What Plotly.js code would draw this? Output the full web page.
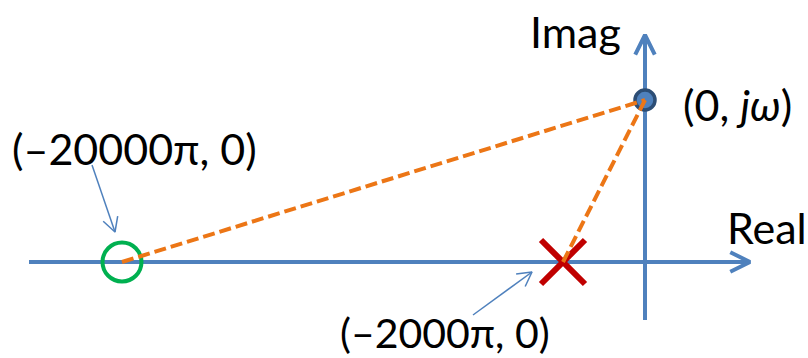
<!DOCTYPE html>
<html>
<head>
<meta charset="utf-8">
<script src="https://cdn.plot.ly/plotly-3.0.1.min.js"></script>
<style>html,body{margin:0;padding:0;background:#fff;}#chart{width:808px;height:358px;}</style>
</head>
<body>
<div id="chart"></div>
<script>
// Schematic s-plane (not to scale), diagram units
const realAxisX = [-616, 105];
const realAxisY = [0, 0];
const imagAxisX = [0, 0];
const imagAxisY = [-58, 227];
const zeroPoint = {x: [-523], y: [0]};      // (-20000π, 0)
const polePoint = {x: [-82], y: [0]};       // (-2000π, 0)
const freqPoint = {x: [0], y: [162]};       // (0, jω)

const labelTexts = ['Imag', 'Real', '(0, <i>jω</i>)', '(–20000π, 0)', '(–2000π, 0)'];
const labelX = [-70, 122, 92, -511, -200];
const labelY = [231, 35, 158, 114, -70];
const labelSizes = [43, 43, 43, 43, 41];

// pointer arrows from labels to markers: [tailX, tailY, tipX, tipY]
const zeroPointer = [-553, 97, -530, 30];
const polePointer = [-172, -53, -113, -10];

function chevron(tx, ty, px, py, len, ang) {
  const a = Math.atan2(ty - py, tx - px);
  const a1 = a + ang, a2 = a - ang;
  return {
    x: [px + len * Math.cos(a1), px, px + len * Math.cos(a2)],
    y: [py + len * Math.sin(a1), py, py + len * Math.sin(a2)]
  };
}

const axisColor = '#4F81BD';
const traces = [];
function line(x, y, color, width, dash) {
  traces.push({type: 'scatter', mode: 'lines', x: x, y: y,
    line: {color: color, width: width, dash: dash || 'solid'}, hoverinfo: 'skip'});
}

// axes
line(realAxisX, realAxisY, axisColor, 4);
line(imagAxisX, imagAxisY, axisColor, 4);
const rh = chevron(realAxisX[0], 0, realAxisX[1], 0, 22, 0.46);
line(rh.x, rh.y, axisColor, 4);
const ih = chevron(0, imagAxisY[0], 0, imagAxisY[1], 22, 0.46);
line(ih.x, ih.y, axisColor, 4);

// label pointers
[zeroPointer, polePointer].forEach(p => {
  line([p[0], p[2]], [p[1], p[3]], axisColor, 1.5);
  const h = chevron(p[0], p[1], p[2], p[3], 16, 0.5);
  line(h.x, h.y, axisColor, 1.5);
});

// markers
traces.push({type: 'scatter', mode: 'markers', x: zeroPoint.x, y: zeroPoint.y,
  marker: {symbol: 'circle-open', size: 39, color: '#00B050', line: {width: 4, color: '#00B050'}}, hoverinfo: 'skip'});
traces.push({type: 'scatter', mode: 'markers', x: polePoint.x, y: polePoint.y,
  marker: {symbol: 'x-thin-open', size: 44, color: '#C00000', line: {width: 6, color: '#C00000'}}, hoverinfo: 'skip'});
traces.push({type: 'scatter', mode: 'markers', x: freqPoint.x, y: freqPoint.y,
  marker: {symbol: 'circle', size: 20, color: '#4F81BD', line: {width: 3.5, color: '#2C4D75'}}, hoverinfo: 'skip'});

// dashed vectors
const dashColor = '#EC7616';
line([zeroPoint.x[0], freqPoint.x[0]], [zeroPoint.y[0], freqPoint.y[0]], dashColor, 4, '12px,5px');
line([polePoint.x[0], freqPoint.x[0]], [polePoint.y[0], freqPoint.y[0]], dashColor, 4, '12px,5px');

const annotations = labelTexts.map((t, i) => ({
  text: t, x: labelX[i], y: labelY[i], xref: 'x', yref: 'y',
  showarrow: false, xanchor: 'center', yanchor: 'middle',
  font: {family: 'Lato, "Open Sans", sans-serif', size: labelSizes[i], color: '#000'}
}));

const layout = {
  width: 808, height: 358,
  margin: {l: 0, r: 0, t: 0, b: 0},
  paper_bgcolor: '#fff', plot_bgcolor: '#fff',
  showlegend: false,
  xaxis: {range: [-645, 163], visible: false, fixedrange: true},
  yaxis: {range: [-96, 262], visible: false, fixedrange: true},
  annotations: annotations
};

Plotly.newPlot('chart', traces, layout, {staticPlot: true, displayModeBar: false});
</script>
</body>
</html>
